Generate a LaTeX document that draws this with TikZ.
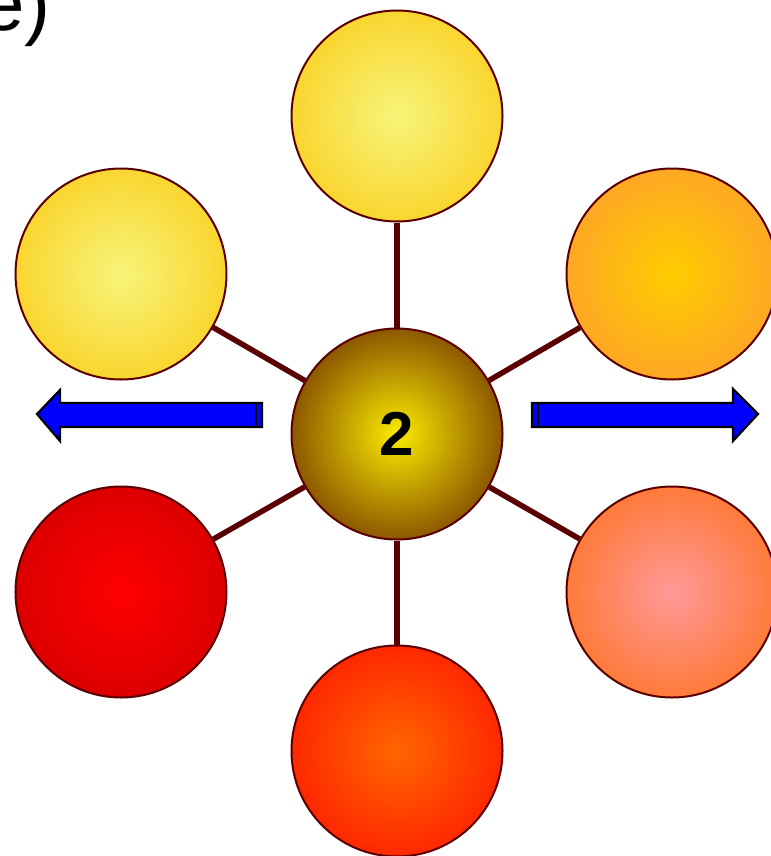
\documentclass[tikz,border=0pt]{standalone}
\usepackage{fontspec}
\setmainfont{Liberation Sans}
\definecolor{edge}{HTML}{5A0000}
\definecolor{arrowblue}{HTML}{0000FF}
\definecolor{paleyellow}{HTML}{F8F47A}
\definecolor{goldyellow}{HTML}{F9D630}
\begin{document}
\begin{tikzpicture}[x=1bp,y=-1bp,
  ball/.style={circle, draw=edge, line width=2bp, minimum size=211bp, inner sep=0pt},
  spoke/.style={draw=edge, line width=5.5bp},
  bigarrow/.style={fill=arrowblue, draw=black, line width=2.2bp, line join=miter}]
\useasboundingbox (0,0) rectangle (771,856);
\node[anchor=base west, inner sep=0pt, font=\fontsize{78bp}{80bp}\selectfont] (lbl) at (-19,30) {e)};
\node[ball, inner color=paleyellow, outer color=goldyellow] (t) at (397,116) {};
\node[ball, inner color=paleyellow, outer color=goldyellow] (ul) at (121,274) {};
\node[ball, inner color={rgb,255:red,255;green,204;blue,0}, outer color={rgb,255:red,253;green,168;blue,36}] (ur) at (672,274) {};
\node[ball, inner color={rgb,255:red,255;green,0;blue,0}, outer color={rgb,255:red,220;green,0;blue,0}] (ll) at (121,592) {};
\node[ball, inner color={rgb,255:red,255;green,153;blue,153}, outer color={rgb,255:red,255;green,122;blue,58}] (lr) at (672,592) {};
\node[ball, inner color={rgb,255:red,255;green,102;blue,0}, outer color={rgb,255:red,255;green,40;blue,0}] (b) at (397,751) {};
\node[ball, inner color={rgb,255:red,250;green,235;blue,0}, outer color={rgb,255:red,140;green,88;blue,0}, font=\bfseries\fontsize{62bp}{64bp}\selectfont] (c) at (397,434) {2};
\foreach \n in {t,ul,ur,ll,lr,b} \draw[spoke] (c) -- (\n);
% left arrow
\draw[bigarrow] (262,403) -- (60,403) -- (60,390) -- (37,414) -- (60,441) -- (60,427) -- (262,427) -- cycle;
\draw[black, line width=1.5bp] (256,403) -- (256,427);
% right arrow
\draw[bigarrow] (532,403) -- (733,403) -- (733,389) -- (758,414) -- (733,441) -- (733,427) -- (532,427) -- cycle;
\draw[black, line width=1.5bp] (538,403) -- (538,427);
\end{tikzpicture}
\end{document}
